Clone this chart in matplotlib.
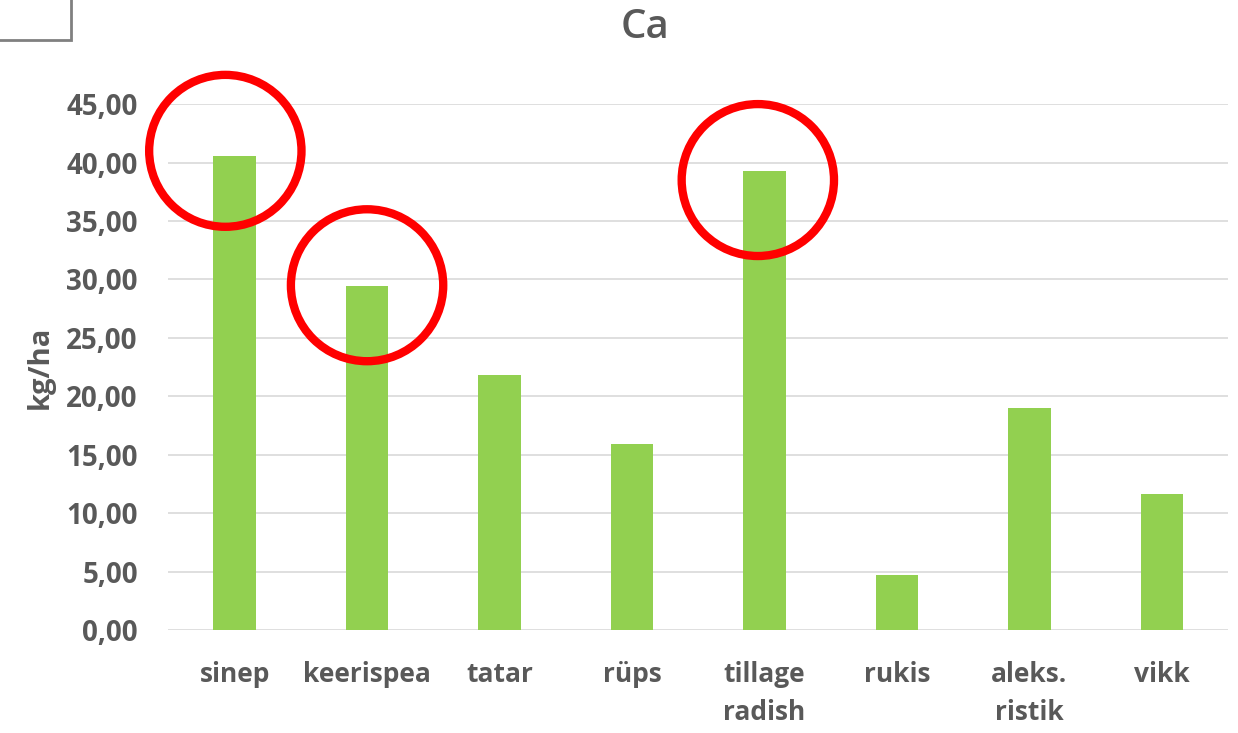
import matplotlib.pyplot as plt
from matplotlib.patches import Ellipse, Rectangle

# crops and Ca amounts (kg/ha)
crops = ["sinep", "keerispea", "tatar", "rüps", "tillage\nradish", "rukis", "aleks.\nristik", "vikk"]
ca_values = [40.6, 29.4, 21.8, 15.9, 39.3, 4.7, 19.0, 11.6]
yticks = [0, 5, 10, 15, 20, 25, 30, 35, 40, 45]

# circled bars: (bar index, centre x offset, centre y)
circled = [(0, -0.07, 41.0), (1, 0.0, 29.5), (4, -0.05, 38.5)]

plt.rcParams['font.family'] = ['Open Sans', 'DejaVu Sans']
text_color = "#595959"

fig = plt.figure(figsize=(12.38, 7.33), dpi=100)
ax = fig.add_axes([0.136, 0.1405, 0.856, 0.7175])

x = range(len(crops))
ax.bar(x, ca_values, width=0.32, color="#92D050", zorder=2)

ax.set_xlim(-0.5, len(crops) - 0.5)
ax.set_ylim(0, 45)
ax.set_yticks(yticks)
ax.set_yticklabels([f"{v:.2f}".replace(".", ",") for v in yticks])
ax.set_xticks(list(x))
ax.set_xticklabels(crops, linespacing=1.55)
ax.grid(axis="y", color="#D9D9D9", linewidth=1.2, zorder=0)
for s in ax.spines.values():
    s.set_visible(False)
ax.tick_params(length=0, labelcolor=text_color)
ax.tick_params(axis="x", pad=22, labelsize=19)
ax.tick_params(axis="y", pad=22, labelsize=20)
for lbl in ax.get_xticklabels() + ax.get_yticklabels():
    lbl.set_fontweight("bold")

ax.set_ylabel("kg/ha", fontsize=21, fontweight="bold", color=text_color, labelpad=8)
fig.text(0.521, 0.962, "Ca", ha="center", va="center", fontsize=29,
         fontweight="semibold", color=text_color)

# red circles around selected bars
for i, dx, cy in circled:
    ax.add_patch(Ellipse((i + dx, cy), width=1.15, height=13.0, fill=False,
                         edgecolor="#FF0000", linewidth=6, zorder=3, clip_on=False))

# small box fragment at top-left
fig.patches.append(Rectangle((-0.01, 0.946), 0.067, 0.06, transform=fig.transFigure,
                             fill=False, edgecolor="#808080", linewidth=2))

fig.savefig("out.png", dpi=100)
